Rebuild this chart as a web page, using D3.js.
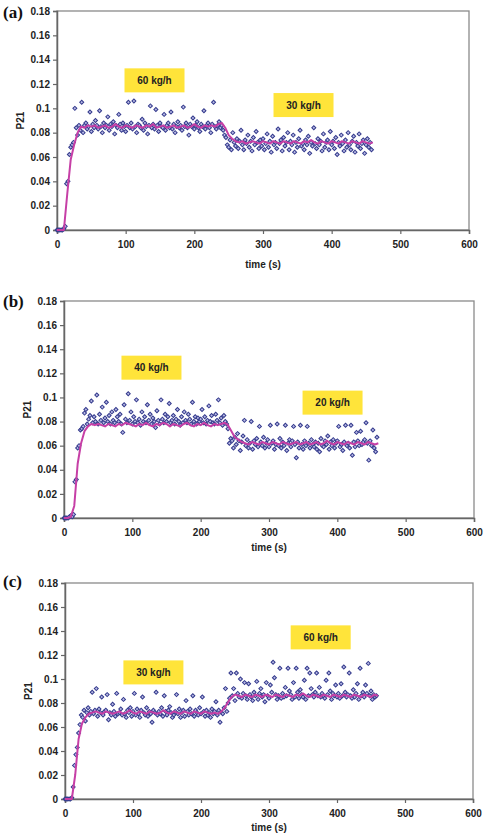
<!DOCTYPE html>
<html>
<head>
<meta charset="utf-8">
<script src="https://cdn.jsdelivr.net/npm/d3@7"></script>
<style>
  body { margin: 0; background: #fff; }
</style>
</head>
<body>
<div id="chart"></div>
<script>
// P21 readings x1000, one sample every 2 s starting at t = 0
const scatterA = [
    0, 0, 0, 0, 0, 1, 3, 38, 40, 62,
    68, 70, 72, 100, 84, 78, 86, 82, 105, 80,
    86, 88, 83, 85, 97, 81, 87, 84, 90, 86,
    83, 98, 85, 80, 88, 84, 86, 93, 82, 87,
    85, 89, 79, 86, 84, 95, 87, 82, 88, 85,
    81, 86, 105, 84, 88, 83, 106, 85, 80, 87,
    86, 84, 91, 82, 88, 85, 79, 86, 102, 84,
    87, 83, 99, 86, 81, 88, 85, 84, 95, 82,
    86, 88, 84, 97, 83, 87, 80, 85, 89, 84,
    86, 82, 101, 85, 88, 84, 78, 87, 85, 92,
    83, 86, 89, 84, 81, 87, 85, 98, 83, 86,
    88, 84, 80, 87, 105, 85, 83, 86, 89, 84,
    86, 82, 78, 76, 70, 68, 74, 66, 80, 72,
    69, 75, 67, 73, 82, 70, 66, 74, 71, 78,
    68, 73, 65, 76, 70, 81, 72, 67, 74, 69,
    75, 66, 71, 79, 68, 73, 64, 77, 70, 72,
    67, 83, 71, 74, 65, 76, 69, 72, 80, 66,
    73, 70, 78, 64, 72, 68, 75, 82, 69, 71,
    66, 74, 70, 77, 63, 72, 69, 84, 71, 67,
    75, 70, 73, 65, 79, 68, 72, 74, 66, 81,
    70, 73, 67, 76, 62, 72, 69, 78, 71, 65,
    74, 68, 80, 70, 66, 73, 77, 64, 72, 69,
    79, 67, 71, 74, 63, 70, 75, 68, 72, 66
];
const scatterB = [
    0, 0, 0, 0, 1, 2, 1, 3, 30, 32,
    58, 60, 73, 74, 76, 87, 90, 78, 82, 85,
    97, 79, 84, 80, 102, 78, 86, 81, 92, 79,
    83, 96, 80, 85, 78, 88, 81, 79, 90, 84,
    80, 86, 78, 71, 94, 82, 79, 103, 81, 88,
    78, 84, 80, 98, 79, 82, 77, 88, 80, 84,
    79, 94, 81, 86, 78, 83, 80, 75, 89, 81,
    78, 98, 82, 79, 86, 80, 84, 95, 79, 81,
    85, 78, 82, 90, 80, 77, 84, 79, 88, 81,
    79, 86, 82, 78, 96, 80, 84, 78, 83, 80,
    82, 90, 79, 84, 78, 81, 93, 80, 85, 79,
    78, 86, 81, 98, 79, 83, 77, 85, 80, 78,
    74, 62, 66, 64, 58, 67, 61, 70, 64, 56,
    63, 68, 81, 60, 65, 58, 62, 80, 57, 64,
    61, 66, 59, 76, 63, 60, 67, 58, 62, 65,
    59, 77, 62, 64, 57, 61, 78, 60, 66, 58,
    63, 60, 77, 56, 62, 65, 59, 64, 76, 61,
    50, 63, 58, 77, 61, 57, 64, 60, 76, 62,
    58, 65, 61, 59, 63, 57, 62, 55, 66, 60,
    59, 64, 61, 68, 57, 63, 60, 65, 58, 62,
    64, 76, 59, 61, 56, 63, 77, 60, 62, 58,
    77, 52, 63, 59, 71, 64, 60, 72, 61, 63,
    65, 79, 62, 48, 64, 60, 73, 58, 55, 67
];
const scatterC = [
    0, 0, 0, 0, 0, 1, 10, 28, 37, 43,
    55, 62, 70, 68, 74, 65, 72, 76, 70, 73,
    89, 71, 74, 92, 69, 75, 72, 85, 70, 73,
    74, 87, 66, 72, 70, 79, 73, 69, 88, 71,
    72, 75, 70, 83, 71, 68, 74, 72, 76, 69,
    73, 88, 70, 75, 71, 68, 74, 85, 72, 70,
    76, 69, 73, 71, 64, 74, 72, 89, 70, 73,
    71, 76, 69, 86, 73, 70, 74, 77, 72, 68,
    70, 73, 87, 71, 75, 68, 72, 74, 69, 82,
    73, 70, 75, 71, 86, 69, 74, 72, 70, 76,
    71, 85, 73, 69, 74, 70, 72, 68, 75, 71,
    73, 81, 70, 74, 64, 72, 71, 76, 92, 73,
    80, 84, 105, 86, 92, 82, 105, 88, 85, 100,
    84, 88, 97, 86, 83, 96, 87, 85, 82, 89,
    86, 98, 83, 88, 92, 85, 87, 81, 97, 86,
    84, 95, 89, 114, 101, 87, 83, 86, 109, 84,
    88, 85, 93, 86, 109, 90, 87, 83, 97, 85,
    109, 89, 84, 91, 87, 85, 99, 83, 109, 86,
    105, 92, 87, 85, 89, 105, 86, 93, 85, 88,
    86, 84, 99, 87, 105, 90, 83, 88, 86, 95,
    85, 88, 84, 96, 86, 110, 89, 85, 87, 105,
    86, 84, 91, 85, 88, 96, 83, 109, 86, 89,
    85, 95, 88, 113, 86, 90, 83, 87, 85, 86
];

// smoothed P21 x1000, one value every 5 s starting at t = 0
const lineA = [
    0, 0, 0, 30, 58, 70, 80, 85, 84, 86,
    85, 86, 84, 85, 86, 84, 85, 87, 85, 84,
    86, 85, 84, 86, 85, 84, 86, 85, 87, 84,
    85, 86, 84, 85, 86, 84, 85, 86, 84, 85,
    87, 85, 84, 86, 85, 86, 85, 87, 88, 84,
    78, 75, 73, 72, 73, 71, 72, 73, 72, 71,
    73, 72, 71, 73, 72, 71, 73, 72, 71, 73,
    72, 71, 73, 72, 74, 72, 71, 73, 72, 71,
    73, 72, 71, 73, 72, 71, 73, 72, 71, 73,
    72, 71, 72
];
const lineB = [
    0, 0, 1, 10, 45, 62, 72, 76, 78, 77,
    78, 77, 76, 78, 77, 76, 78, 77, 79, 78,
    77, 76, 78, 77, 79, 77, 76, 78, 77, 79,
    78, 76, 78, 77, 76, 78, 79, 77, 76, 78,
    77, 79, 77, 76, 78, 77, 78, 79, 77, 72,
    67, 65, 63, 62, 61, 63, 62, 61, 63, 62,
    61, 63, 62, 61, 63, 62, 61, 62, 63, 61,
    62, 63, 61, 62, 63, 61, 62, 64, 62, 61,
    63, 62, 61, 63, 62, 61, 63, 62, 61, 63,
    62, 61, 62
];
const lineC = [
    0, 0, 0, 20, 50, 63, 68, 71, 72, 73,
    72, 71, 73, 72, 71, 72, 73, 71, 72, 74,
    72, 71, 73, 72, 71, 73, 72, 71, 72, 74,
    72, 71, 73, 72, 71, 73, 72, 71, 73, 72,
    71, 73, 72, 71, 72, 71, 73, 76, 81, 85,
    87, 86, 85, 87, 86, 85, 87, 86, 85, 87,
    86, 85, 87, 86, 85, 87, 86, 85, 87, 86,
    88, 86, 85, 87, 86, 85, 87, 86, 85, 87,
    86, 85, 87, 86, 85, 87, 86, 85, 87, 86,
    85, 87, 86
];

// feed-rate notes: text and centre in data units (t, P21)
const notesA = [{ text: "60 kg/h", t: 142, v: 0.123 }, { text: "30 kg/h", t: 359, v: 0.1027 }];
const notesB = [{ text: "40 kg/h", t: 128, v: 0.1247 }, { text: "20 kg/h", t: 393, v: 0.0957 }];
const notesC = [{ text: "30 kg/h", t: 130, v: 0.1055 }, { text: "60 kg/h", t: 376, v: 0.1347 }];

const xTicks = [0, 100, 200, 300, 400, 500, 600];
const yTicks = [0, 0.02, 0.04, 0.06, 0.08, 0.1, 0.12, 0.14, 0.16, 0.18];

const scatterStep = 2, lineStep = 5;

const panels = [
    { tag: "(a)", pts: scatterA, line: lineA, notes: notesA, left: 57, right: 469, top: 11, bottom: 230, tagY: 18, titleY: 268 },
    { tag: "(b)", pts: scatterB, line: lineB, notes: notesB, left: 64, right: 474, top: 301, bottom: 518, tagY: 307, titleY: 551 },
    { tag: "(c)", pts: scatterC, line: lineC, notes: notesC, left: 65, right: 473, top: 583, bottom: 799, tagY: 587, titleY: 831 }
];

const font = "'Liberation Sans', Arial, Helvetica, sans-serif";

const svg = d3.select("#chart")
    .append("svg")
    .attr("width", 484)
    .attr("height", 836)
    .style("font-family", font);

const diamond = d3.symbol().type(d3.symbolSquare).size(8);

panels.forEach(p => {
    const x = d3.scaleLinear().domain([0, 600]).range([p.left, p.right]);
    const y = d3.scaleLinear().domain([0, 0.18]).range([p.bottom, p.top]);
    const g = svg.append("g");

    // plot frame
    g.append("rect")
        .attr("x", p.left)
        .attr("y", p.top)
        .attr("width", p.right - p.left)
        .attr("height", p.bottom - p.top)
        .attr("fill", "none")
        .attr("stroke", "#8a8a8a")
        .attr("stroke-width", 1.3);

    // y axis
    const ya = g.append("g")
        .attr("transform", `translate(${p.left},0)`)
        .call(d3.axisLeft(y).tickValues(yTicks).tickSize(4).tickPadding(3)
            .tickFormat(d => String(+d.toFixed(2))));

    // x axis
    const xa = g.append("g")
        .attr("transform", `translate(0,${p.bottom})`)
        .call(d3.axisBottom(x).tickValues(xTicks).tickSize(4).tickPadding(7));

    [ya, xa].forEach(a => {
        a.select(".domain").attr("stroke", "#666").attr("stroke-width", 1.5);
        a.selectAll(".tick line").attr("stroke", "#666").attr("stroke-width", 1.2);
        a.selectAll("text")
            .attr("fill", "#222")
            .style("font-family", font)
            .style("font-size", "10px")
            .style("font-weight", "bold");
    });

    // scatter points
    g.append("g")
        .selectAll("path")
        .data(p.pts)
        .enter().append("path")
        .attr("d", diamond)
        .attr("transform", (d, i) => `translate(${x(i * scatterStep)},${y(d / 1000)}) rotate(45)`)
        .attr("fill", "#b9bbe6")
        .attr("stroke", "#343a8c")
        .attr("stroke-width", 1);

    // smoothed line
    g.append("path")
        .datum(p.line)
        .attr("fill", "none")
        .attr("stroke", "#c63fa6")
        .attr("stroke-width", 2)
        .attr("stroke-linejoin", "round")
        .attr("d", d3.line().x((d, i) => x(i * lineStep)).y(d => y(d / 1000)));

    // feed-rate boxes
    const note = g.append("g")
        .selectAll("g")
        .data(p.notes)
        .enter().append("g")
        .attr("transform", d => `translate(${x(d.t)},${y(d.v)})`);

    note.append("rect")
        .attr("x", -30)
        .attr("y", -12)
        .attr("width", 60)
        .attr("height", 24)
        .attr("fill", "#ffe43a");

    note.append("text")
        .attr("text-anchor", "middle")
        .attr("dy", "0.35em")
        .style("font-size", "10px")
        .style("font-weight", "bold")
        .attr("fill", "#222")
        .text(d => d.text);

    // panel tag
    g.append("text")
        .attr("x", 3)
        .attr("y", p.tagY)
        .style("font-family", "'Liberation Serif', 'Times New Roman', serif")
        .style("font-size", "17px")
        .style("font-weight", "bold")
        .attr("fill", "#111")
        .text(p.tag);

    // axis titles
    g.append("text")
        .attr("x", (p.left + p.right) / 2)
        .attr("y", p.titleY)
        .attr("text-anchor", "middle")
        .style("font-size", "10px")
        .style("font-weight", "bold")
        .attr("fill", "#222")
        .text("time (s)");

    g.append("text")
        .attr("transform", "rotate(-90)")
        .attr("x", -(p.top + p.bottom) / 2)
        .attr("y", p.left - 33)
        .attr("text-anchor", "middle")
        .style("font-size", "10px")
        .style("font-weight", "bold")
        .attr("fill", "#222")
        .text("P21");
});
</script>
</body>
</html>
